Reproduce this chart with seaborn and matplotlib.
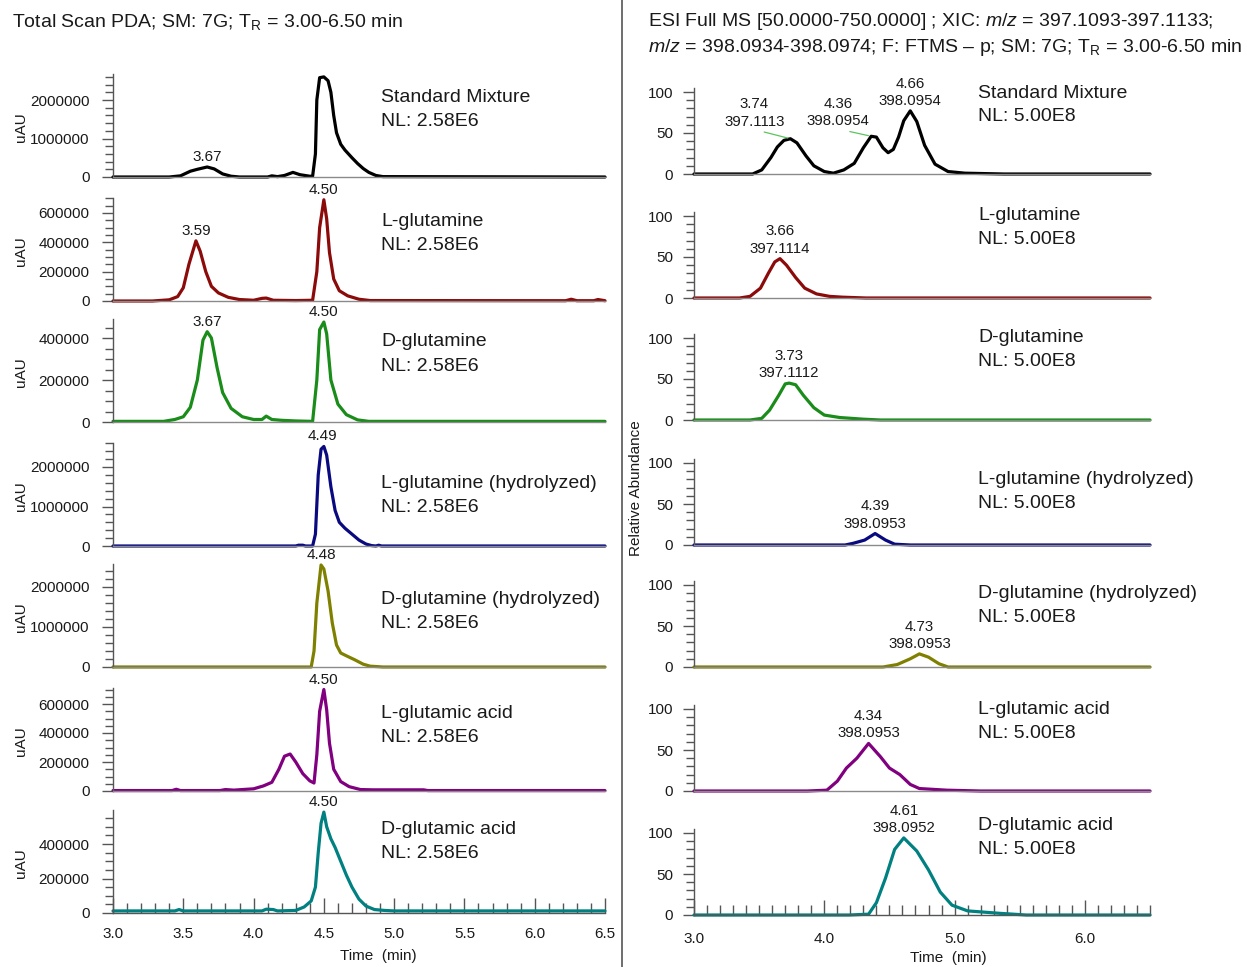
import matplotlib
matplotlib.use("Agg")
import matplotlib.pyplot as plt
from matplotlib.lines import Line2D
from matplotlib.ticker import MultipleLocator, FormatStrFormatter, FixedLocator
import seaborn as sns
import pandas as pd

# ---------------- data ----------------
names = ["Standard Mixture", "L-glutamine", "D-glutamine", "L-glutamine (hydrolyzed)",
         "D-glutamine (hydrolyzed)", "L-glutamic acid", "D-glutamic acid"]
colors = ["#000000", "#8B0A0A", "#1A8C1A", "#0A0A80", "#808000", "#800080", "#008080"]
nl_left = "NL: 2.58E6"
nl_right = "NL: 5.00E8"

# Left: Total Scan PDA (uAU)
l1_t = [3.00, 3.40, 3.48, 3.55, 3.60, 3.67, 3.72, 3.78, 3.84, 3.90, 4.10, 4.13, 4.17, 4.22, 4.28, 4.33, 4.40,
        4.42, 4.44, 4.45, 4.47, 4.50, 4.53, 4.55, 4.57, 4.59, 4.62, 4.65, 4.70, 4.74, 4.78, 4.82, 4.87, 4.92, 6.50]
l1_y = [0, 0, 30000, 150000, 200000, 260000, 210000, 80000, 20000, 0, 0, 30000, 10000, 40000, 120000, 60000, 20000,
        20000, 600000, 2000000, 2580000, 2600000, 2500000, 2200000, 1600000, 1150000, 850000, 700000, 500000,
        350000, 220000, 120000, 40000, 10000, 0]
l2_t = [3.00, 3.28, 3.40, 3.46, 3.50, 3.54, 3.59, 3.62, 3.66, 3.70, 3.75, 3.82, 3.90, 4.00, 4.06, 4.09, 4.14,
        4.30, 4.42, 4.45, 4.47, 4.50, 4.52, 4.54, 4.57, 4.61, 4.67, 4.75, 4.83, 6.22, 6.26, 6.30, 6.42, 6.45, 6.50]
l2_y = [0, 0, 8000, 30000, 90000, 250000, 410000, 340000, 200000, 100000, 55000, 25000, 10000, 5000, 18000,
        20000, 5000, 3000, 5000, 200000, 500000, 690000, 560000, 330000, 150000, 70000, 35000, 12000, 3000,
        2000, 12000, 2000, 2000, 10000, 2000]
l3_t = [3.00, 3.36, 3.44, 3.50, 3.55, 3.60, 3.64, 3.67, 3.70, 3.74, 3.78, 3.84, 3.92, 4.00, 4.06, 4.09, 4.13,
        4.20, 4.30, 4.42, 4.45, 4.47, 4.50, 4.52, 4.55, 4.60, 4.66, 4.74, 4.82, 6.50]
l3_y = [3000, 3000, 12000, 25000, 70000, 200000, 390000, 430000, 400000, 260000, 140000, 65000, 25000, 12000,
        12000, 28000, 12000, 8000, 5000, 3000, 200000, 440000, 476000, 420000, 200000, 85000, 35000, 10000,
        3000, 3000]
l4_t = [3.00, 4.30, 4.32, 4.35, 4.37, 4.42, 4.44, 4.46, 4.48, 4.50, 4.52, 4.55, 4.58, 4.61, 4.65, 4.70, 4.75,
        4.80, 4.84, 4.87, 4.89, 4.91, 6.50]
l4_y = [0, 0, 20000, 20000, 0, 0, 300000, 1800000, 2450000, 2520000, 2300000, 1500000, 900000, 600000, 450000,
        300000, 150000, 50000, 10000, 0, 20000, 0, 0]
l5_t = [3.00, 4.41, 4.43, 4.45, 4.48, 4.50, 4.53, 4.56, 4.59, 4.62, 4.66, 4.72, 4.78, 4.83, 4.88, 4.92, 6.50]
l5_y = [0, 0, 400000, 1600000, 2550000, 2450000, 1900000, 1100000, 550000, 350000, 280000, 180000, 70000,
        20000, 10000, 0, 0]
l6_t = [3.00, 3.42, 3.45, 3.48, 3.76, 3.80, 3.86, 3.92, 4.00, 4.07, 4.13, 4.18, 4.22, 4.26, 4.30, 4.35, 4.40,
        4.43, 4.45, 4.47, 4.50, 4.52, 4.54, 4.57, 4.62, 4.68, 4.76, 4.85, 5.21, 5.24, 6.50]
l6_y = [3000, 3000, 12000, 3000, 3000, 10000, 6000, 10000, 15000, 35000, 60000, 150000, 240000, 255000,
        200000, 120000, 70000, 55000, 250000, 550000, 700000, 560000, 330000, 150000, 65000, 30000, 10000,
        8000, 8000, 3000, 3000]
l7_t = [3.00, 3.44, 3.47, 3.50, 4.06, 4.09, 4.14, 4.17, 4.30, 4.36, 4.41, 4.44, 4.46, 4.48, 4.50, 4.52, 4.55,
        4.58, 4.62, 4.66, 4.70, 4.75, 4.80, 4.86, 4.93, 5.00, 6.50]
l7_y = [12000, 12000, 20000, 12000, 12000, 22000, 20000, 12000, 15000, 35000, 70000, 150000, 350000, 520000,
        585000, 500000, 430000, 380000, 300000, 220000, 150000, 80000, 40000, 20000, 15000, 12000, 12000]

# Right: XIC (relative abundance, %)
r1_t = [3.00, 3.45, 3.52, 3.59, 3.64, 3.69, 3.74, 3.79, 3.86, 3.92, 4.00, 4.07, 4.15, 4.23, 4.30, 4.36, 4.40,
        4.45, 4.49, 4.53, 4.57, 4.61, 4.66, 4.71, 4.77, 4.85, 4.95, 5.08, 5.38, 6.50]
r1_y = [0, 0, 5, 20, 33, 41, 43, 38, 22, 10, 3, 1, 5, 13, 32, 46, 45, 32, 26, 30, 45, 65, 77, 64, 35, 12, 3, 1, 0, 0]
r2_t = [3.00, 3.35, 3.43, 3.51, 3.57, 3.62, 3.66, 3.71, 3.78, 3.85, 3.94, 4.04, 4.14, 4.32, 6.50]
r2_y = [0, 0, 2, 12, 30, 44, 48, 40, 25, 12, 5, 2, 1, 0, 0]
r3_t = [3.00, 3.43, 3.52, 3.58, 3.65, 3.70, 3.73, 3.78, 3.84, 3.92, 4.00, 4.12, 4.30, 4.43, 6.50]
r3_y = [0, 0, 2, 12, 30, 44, 45, 43, 30, 15, 6, 3, 1, 0, 0]
r4_t = [3.00, 4.16, 4.22, 4.31, 4.39, 4.47, 4.54, 4.66, 6.50]
r4_y = [0, 0, 2, 6, 14, 6, 1, 0, 0]
r5_t = [3.00, 4.45, 4.56, 4.66, 4.73, 4.80, 4.88, 4.95, 6.50]
r5_y = [0, 0, 3, 10, 16, 12, 4, 0, 0]
r6_t = [3.00, 3.87, 4.02, 4.10, 4.17, 4.25, 4.34, 4.43, 4.50, 4.58, 4.66, 4.73, 4.94, 5.20, 6.50]
r6_y = [0, 0, 1, 12, 28, 40, 58, 42, 28, 20, 8, 3, 1, 0, 0]
r7_t = [3.00, 4.19, 4.34, 4.40, 4.47, 4.54, 4.61, 4.71, 4.80, 4.89, 4.98, 5.10, 5.35, 5.55, 6.50]
r7_y = [0, 0, 1, 15, 45, 80, 94, 78, 55, 28, 12, 5, 2, 0, 0]

# peak labels: (time, height, text)
left_peaks = [
    [(3.67, 260000, "3.67")],
    [(3.59, 410000, "3.59"), (4.50, 690000, "4.50")],
    [(3.67, 430000, "3.67"), (4.50, 476000, "4.50")],
    [(4.49, 2520000, "4.49")],
    [(4.48, 2550000, "4.48")],
    [(4.50, 700000, "4.50")],
    [(4.50, 585000, "4.50")],
]
right_peaks = [
    [(3.74, 43, "3.74\n397.1113"), (4.36, 46, "4.36\n398.0954"), (4.66, 77, "4.66\n398.0954")],
    [(3.66, 48, "3.66\n397.1114")],
    [(3.73, 45, "3.73\n397.1112")],
    [(4.39, 14, "4.39\n398.0953")],
    [(4.73, 16, "4.73\n398.0953")],
    [(4.34, 58, "4.34\n398.0953")],
    [(4.61, 94, "4.61\n398.0952")],
]

left_series = [(l1_t, l1_y), (l2_t, l2_y), (l3_t, l3_y), (l4_t, l4_y), (l5_t, l5_y), (l6_t, l6_y), (l7_t, l7_y)]
right_series = [(r1_t, r1_y), (r2_t, r2_y), (r3_t, r3_y), (r4_t, r4_y), (r5_t, r5_y), (r6_t, r6_y), (r7_t, r7_y)]

# ---------------- style ----------------
sns.set_theme(style="white")
plt.rcParams["font.family"] = ["Liberation Sans", "DejaVu Sans"]
plt.rcParams["mathtext.fontset"] = "custom"
plt.rcParams["mathtext.rm"] = "Liberation Sans"
plt.rcParams["mathtext.it"] = "Liberation Sans:italic"
plt.rcParams["mathtext.bf"] = "Liberation Sans:bold"

W, H = 1247, 967
fig = plt.figure(figsize=(W / 100, H / 100), dpi=100)


def px_axes(x0, x1, ytop, ybot):
    return fig.add_axes([x0 / W, 1 - ybot / H, (x1 - x0) / W, (ybot - ytop) / H])


def ftext(x, y, s, **kw):
    fig.text(x / W, 1 - y / H, s, **kw)


TXT = "#1a1a1a"
SPINE = "#555555"

# left layout: zero pixel, pixels per unit, major, minor
left_zero = [177, 301, 422, 546, 667, 791, 913]
left_ppu = [38.5e-6, 146.7e-6, 210e-6, 39.5e-6, 40e-6, 145e-6, 172.5e-6]
left_major = [1e6, 2e5, 2e5, 1e6, 1e6, 2e5, 2e5]
left_minor = [2e5, 5e4, 5e4, 2e5, 2e5, 5e4, 5e4]
left_name_y = [98, 221, 342, 484, 599, 714, 830]
BOX_L = 103

right_zero = [174, 298, 420, 545, 667, 791, 915]
right_ppu = 0.82
right_name_y = [93, 216, 337, 479, 594, 709, 825]
BOX_R = 86


def style_axes(ax, bottom_panel, right=False):
    sns.despine(ax=ax)
    ax.spines["left"].set_color(SPINE)
    ax.spines["left"].set_linewidth(1.0)
    ax.spines["bottom"].set_color("#8a8a8a")
    ax.spines["bottom"].set_linewidth(1.0)
    ax.set_xlim(3.0, 6.5)
    ax.tick_params(axis="y", which="major", direction="out", length=8, width=1, color=SPINE,
                   labelsize=11, labelcolor=TXT, pad=7 if right else 9, left=True)
    ax.tick_params(axis="y", which="minor", direction="out", length=6, width=1, color=SPINE, left=True)
    ax.set_xlabel("")
    ax.set_ylabel("")
    if bottom_panel:
        ax.spines["bottom"].set_color(SPINE)
        ax.tick_params(axis="x", which="major", direction="in", length=11, width=1, color=SPINE,
                       labelsize=11, labelcolor=TXT, pad=12 if right else 10, bottom=True)
        ax.tick_params(axis="x", which="minor", direction="in", length=7, width=1, color=SPINE, bottom=True)
        ax.xaxis.set_minor_locator(MultipleLocator(0.1))
        if right:
            ax.xaxis.set_major_locator(FixedLocator([3.0, 4.0, 5.0, 6.0]))
        else:
            ax.xaxis.set_major_locator(MultipleLocator(0.5))
        ax.xaxis.set_major_formatter(FormatStrFormatter("%.1f"))
    else:
        ax.set_xticks([])
        ax.tick_params(axis="x", which="both", bottom=False, labelbottom=False)
        ax.xaxis.set_minor_locator(FixedLocator([]))


def finish_lines(ax):
    for ln in ax.lines:
        ln.set_clip_on(False)
        ln.set_solid_joinstyle("round")
        ln.set_solid_capstyle("round")


# ---------------- left panels ----------------
for i in range(7):
    z = left_zero[i]
    ax = px_axes(113, 605, z - BOX_L, z)
    t, y = left_series[i]
    df = pd.DataFrame({"t": t, "y": y})
    sns.lineplot(data=df, x="t", y="y", ax=ax, color=colors[i], lw=2.3, estimator=None, sort=False)
    finish_lines(ax)
    ax.set_ylim(0, BOX_L / left_ppu[i])
    ax.yaxis.set_major_locator(MultipleLocator(left_major[i]))
    ax.yaxis.set_minor_locator(MultipleLocator(left_minor[i]))
    ax.yaxis.set_major_formatter(FormatStrFormatter("%d"))
    style_axes(ax, i == 6)
    for (pt, ph, lab) in left_peaks[i]:
        ax.annotate(lab, xy=(pt, ph), xytext=(0, 3), textcoords="offset pixels", ha="center", va="bottom",
                    fontsize=11, color=TXT, annotation_clip=False)
    ftext(381, left_name_y[i], names[i], fontsize=14, color=TXT, va="center", ha="left")
    ftext(381, left_name_y[i] + 24, nl_left, fontsize=14, color=TXT, va="center", ha="left")
    ftext(21, z - 50, "uAU", fontsize=11, color=TXT, rotation=90, va="center", ha="center")

# ---------------- right panels ----------------
right_offsets = [[(-36, 10), (-33, 8), (0, 3)], [(0, 3)], [(0, 3)], [(0, 3)], [(0, 3)], [(0, 3)], [(0, 3)]]
for i in range(7):
    z = right_zero[i]
    ax = px_axes(694, 1150, z - BOX_R, z)
    t, y = right_series[i]
    df = pd.DataFrame({"t": t, "y": y})
    sns.lineplot(data=df, x="t", y="y", ax=ax, color=colors[i], lw=2.3, estimator=None, sort=False)
    finish_lines(ax)
    ax.set_ylim(0, BOX_R / right_ppu)
    ax.yaxis.set_major_locator(FixedLocator([0, 50, 100]))
    ax.yaxis.set_minor_locator(FixedLocator([10, 20, 30, 40, 60, 70, 80, 90]))
    ax.yaxis.set_major_formatter(FormatStrFormatter("%d"))
    style_axes(ax, i == 6, right=True)
    for k, (pt, ph, lab) in enumerate(right_peaks[i]):
        dx, dy = right_offsets[i][k]
        if dx != 0:
            ax.annotate(lab, xy=(pt, ph), xytext=(dx, dy), textcoords="offset pixels", ha="center",
                        va="bottom", fontsize=10.8, color=TXT, linespacing=1.3, annotation_clip=False,
                        arrowprops=dict(arrowstyle="-", color="#5cc45c", lw=0.9, shrinkA=0, shrinkB=2,
                                        relpos=(0.45, 0.0)))
        else:
            ax.annotate(lab, xy=(pt, ph), xytext=(dx, dy), textcoords="offset pixels", ha="center",
                        va="bottom", fontsize=10.8, color=TXT, linespacing=1.3, annotation_clip=False)
    ftext(978, right_name_y[i], names[i], fontsize=14, color=TXT, va="center", ha="left")
    ftext(978, right_name_y[i] + 24, nl_right, fontsize=14, color=TXT, va="center", ha="left")

# ---------------- figure texts ----------------
ftext(12, 22, r"Total Scan PDA; SM: 7G; T$_\mathrm{R}$ = 3.00-6.50 min", fontsize=14, color=TXT, va="center")
ftext(648, 22, r"ESI Full MS [50.0000-750.0000] ; XIC: $\mathit{m/z}$ = 397.1093-397.1133;",
      fontsize=14, color=TXT, va="center")
ftext(648, 47, r"$\mathit{m/z}$ = 398.0934-398.0974; F: FTMS – p; SM: 7G; T$_\mathrm{R}$ = 3.00-6.50 min",
      fontsize=14, color=TXT, va="center")
ftext(378, 956, "Time  (min)", fontsize=11, color=TXT, va="center", ha="center")
ftext(948, 958, "Time  (min)", fontsize=11, color=TXT, va="center", ha="center")
ftext(636, 488, "Relative Abundance", fontsize=11, color=TXT, va="center", ha="center", rotation=90)

fig.add_artist(Line2D([622 / W, 622 / W], [0, 1], color="#555555", lw=1.2, transform=fig.transFigure))

fig.savefig("out.png", dpi=100, facecolor="white")
